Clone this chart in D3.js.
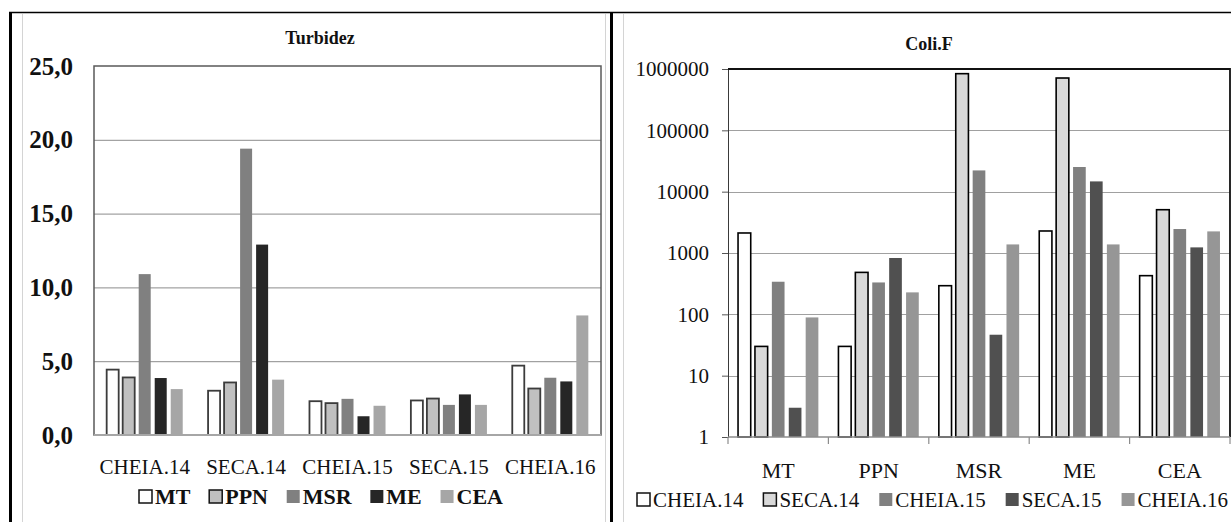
<!DOCTYPE html>
<html>
<head>
<meta charset="utf-8">
<title>Turbidez e Coli.F</title>
<script src="https://cdn.jsdelivr.net/npm/d3@7"></script>
<style>
  body { margin: 0; padding: 0; background: #fff; }
  svg text { font-family: "Liberation Serif", serif; fill: #111; }
</style>
</head>
<body>
<svg id="svg" width="1231" height="522"></svg>
<script>
const campaigns = ["CHEIA.14", "SECA.14", "CHEIA.15", "SECA.15", "CHEIA.16"];
const sites = ["MT", "PPN", "MSR", "ME", "CEA"];

// Turbidez, one array per site, in campaign order
const turbMT  = [4.43, 3.00, 2.29, 2.34, 4.70];
const turbPPN = [3.90, 3.56, 2.16, 2.47, 3.15];
const turbMSR = [10.9, 19.4, 2.45, 2.04, 3.88];
const turbME  = [3.86, 12.9, 1.27, 2.75, 3.63];
const turbCEA = [3.11, 3.75, 1.98, 2.04, 8.10];
const turbTicks = [0, 5, 10, 15, 20, 25];

// Coli.F, one array per campaign, in site order
const coliCheia14 = [2120, 30, 293, 2285, 427];
const coliSeca14  = [30, 483, 839000, 713000, 5080];
const coliCheia15 = [340, 331, 22200, 25250, 2460];
const coliSeca15  = [3, 829, 46.5, 14700, 1235];
const coliCheia16 = [89, 228, 1380, 1380, 2250];
const coliTicks = [1, 10, 100, 1000, 10000, 100000, 1000000];

const turbSeries = [
  { name: "MT",  values: turbMT,  fill: "#ffffff", stroke: "#3c3c3c" },
  { name: "PPN", values: turbPPN, fill: "#c0c0c0", stroke: "#3c3c3c" },
  { name: "MSR", values: turbMSR, fill: "#808080", stroke: "none" },
  { name: "ME",  values: turbME,  fill: "#262626", stroke: "none" },
  { name: "CEA", values: turbCEA, fill: "#a6a6a6", stroke: "none" }
];
const coliSeries = [
  { name: "CHEIA.14", values: coliCheia14, fill: "#ffffff", stroke: "#000" },
  { name: "SECA.14",  values: coliSeca14,  fill: "#d9d9d9", stroke: "#000" },
  { name: "CHEIA.15", values: coliCheia15, fill: "#808080", stroke: "none" },
  { name: "SECA.15",  values: coliSeca15,  fill: "#505050", stroke: "none" },
  { name: "CHEIA.16", values: coliCheia16, fill: "#969696", stroke: "none" }
];

const svg = d3.select("#svg");

// legend laid out between x0 and x1, gaps stretched to fit
function legend(g, series, x0, x1, y, opts) {
  const leg = g.append("g").attr("transform", `translate(0,${y})`);
  const items = series.map(s => {
    const it = leg.append("g");
    it.append("rect").attr("x", 1).attr("y", -14).attr("width", 13).attr("height", 13)
      .attr("fill", s.fill).attr("stroke", s.stroke === "none" ? "none" : "#111")
      .attr("stroke-width", 1.5);
    const t = it.append("text").attr("x", 17).attr("y", 0)
      .attr("font-size", opts.size).attr("font-weight", opts.weight).text(s.name);
    return { it, w: 17 + t.node().getComputedTextLength() };
  });
  const total = d3.sum(items, d => d.w);
  const gap = (x1 - x0 - total) / (items.length - 1);
  let lx = x0;
  items.forEach(d => { d.it.attr("transform", `translate(${lx},0)`); lx += d.w + gap; });
}

// table cell borders around the two charts
const frame = svg.append("g");
frame.append("line").attr("x1", 9).attr("x2", 1231).attr("y1", 12.5).attr("y2", 12.5)
  .attr("stroke", "#000").attr("stroke-width", 1.5);
frame.append("line").attr("x1", 10.5).attr("x2", 10.5).attr("y1", 12).attr("y2", 522)
  .attr("stroke", "#000").attr("stroke-width", 3);
frame.append("line").attr("x1", 611.5).attr("x2", 611.5).attr("y1", 12).attr("y2", 522)
  .attr("stroke", "#000").attr("stroke-width", 3);
[22.5, 605.5, 623.5].forEach(x => {
  frame.append("line").attr("x1", x).attr("x2", x).attr("y1", 14).attr("y2", 522)
    .attr("stroke", "#d4d4d4").attr("stroke-width", 1);
});

// ---------- Turbidez ----------
{
  const m = { left: 94, right: 601, top: 66, bottom: 435 };
  const g = svg.append("g");

  const y = d3.scaleLinear().domain([0, 25]).range([m.bottom, m.top]);
  const x0 = d3.scaleBand().domain(campaigns).range([m.left, m.right])
    .paddingInner(0.25).paddingOuter(0.125);
  const x1 = d3.scaleBand().domain(sites).range([0, x0.bandwidth()]).paddingInner(0.25);

  g.append("text").attr("x", 320).attr("y", 44).attr("text-anchor", "middle")
    .attr("font-size", 18).attr("font-weight", "bold").text("Turbidez");

  // gridlines
  g.selectAll(".grid").data(turbTicks.slice(1, -1)).enter().append("line")
    .attr("x1", m.left).attr("x2", m.right)
    .attr("y1", d => y(d) + 0.5).attr("y2", d => y(d) + 0.5)
    .attr("stroke", "#8c8c8c").attr("stroke-width", 1);

  // plot frame
  g.append("rect").attr("x", m.left).attr("y", y(25))
    .attr("width", m.right - m.left).attr("height", y(0) - y(25))
    .attr("fill", "none").attr("stroke", "#5a5a5a").attr("stroke-width", 1.5);

  // y labels
  g.append("g").attr("transform", `translate(${m.left},0)`)
    .call(d3.axisLeft(y).tickValues(turbTicks).tickSize(0).tickPadding(21)
      .tickFormat(d => d3.format(".1f")(d).replace(".", ",")))
    .call(a => a.attr("font-family", null).select(".domain").remove())
    .selectAll("text").attr("font-size", 25).attr("font-weight", "bold");

  // bars
  turbSeries.forEach(s => {
    g.append("g").selectAll("rect").data(s.values).enter().append("rect")
      .attr("x", (d, i) => x0(campaigns[i]) + x1(s.name))
      .attr("y", d => y(d))
      .attr("width", x1.bandwidth())
      .attr("height", d => y(0) - y(d))
      .attr("fill", s.fill)
      .attr("stroke", s.stroke)
      .attr("stroke-width", 1.8);
  });

  // baseline
  g.append("line").attr("x1", m.left).attr("x2", m.right)
    .attr("y1", y(0)).attr("y2", y(0))
    .attr("stroke", "#a6a6a6").attr("stroke-width", 2);

  // x labels
  g.append("g").attr("transform", `translate(0,${m.bottom})`)
    .call(d3.axisBottom(x0).tickSize(0).tickPadding(24))
    .call(a => a.attr("font-family", null).select(".domain").remove())
    .selectAll("text").attr("font-size", 21);

  legend(g, turbSeries, 138, 503, 504, { size: 22, weight: "bold" });
}

// ---------- Coli.F ----------
{
  const m = { left: 728, right: 1230, top: 69, bottom: 437 };
  const g = svg.append("g");

  const y = d3.scaleLog().domain([1, 1000000]).range([m.bottom, m.top]);
  const x0 = d3.scaleBand().domain(sites).range([m.left, m.right]).padding(0);
  const x1 = d3.scaleBand().domain(campaigns)
    .range([x0.bandwidth() * 0.1, x0.bandwidth() * 0.9]).paddingInner(0.25);

  g.append("text").attr("x", 929).attr("y", 50).attr("text-anchor", "middle")
    .attr("font-size", 18).attr("font-weight", "bold").text("Coli.F");

  // gridlines
  g.selectAll(".grid").data(coliTicks.slice(1, -1)).enter().append("line")
    .attr("x1", m.left).attr("x2", m.right)
    .attr("y1", d => Math.round(y(d)) + 0.5).attr("y2", d => Math.round(y(d)) + 0.5)
    .attr("stroke", "#a0a0a0").attr("stroke-width", 1);

  // y axis with ticks
  g.append("g").attr("transform", `translate(${m.left},0)`)
    .call(d3.axisLeft(y).tickValues(coliTicks).tickSize(6).tickPadding(13)
      .tickFormat(d3.format("d")))
    .call(a => a.attr("font-family", null).select(".domain").attr("stroke", "#3a3a3a"))
    .call(a => a.selectAll(".tick line").attr("stroke", "#555"))
    .selectAll("text").attr("font-size", 21);

  // bars
  coliSeries.forEach(s => {
    g.append("g").selectAll("rect").data(s.values).enter().append("rect")
      .attr("x", (d, i) => x0(sites[i]) + x1(s.name))
      .attr("y", d => y(d))
      .attr("width", x1.bandwidth())
      .attr("height", d => y(1) - y(d))
      .attr("fill", s.fill)
      .attr("stroke", s.stroke)
      .attr("stroke-width", 1.6);
  });

  // top and right frame
  g.append("path")
    .attr("d", `M${m.left},${y(1000000)}H${m.right}V${m.bottom}`)
    .attr("fill", "none").attr("stroke", "#111").attr("stroke-width", 1.8);

  // x axis with ticks at category boundaries
  const xa = g.append("g").attr("transform", `translate(0,${m.bottom})`)
    .call(d3.axisBottom(x0).tickSize(0).tickPadding(25))
    .call(a => a.attr("font-family", null).select(".domain").remove());
  xa.selectAll("text").attr("font-size", 22);
  xa.append("line").attr("x1", m.left).attr("x2", m.right).attr("y1", 0).attr("y2", 0)
    .attr("stroke", "#8c8c8c").attr("stroke-width", 1.5);
  xa.selectAll(".btick").data(sites.map(c => x0(c)).concat([m.right])).enter().append("line")
    .attr("x1", d => d).attr("x2", d => d).attr("y1", 0).attr("y2", 7)
    .attr("stroke", "#8c8c8c").attr("stroke-width", 1.2);

  // legend reaches the right edge, as in the original
  legend(g, coliSeries, 636, 1228, 507, { size: 21, weight: "normal" });
}
</script>
</body>
</html>
